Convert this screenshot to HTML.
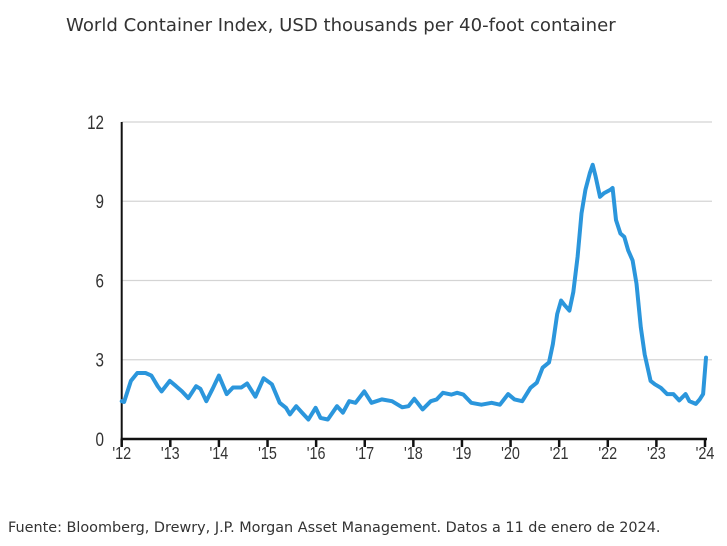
<!DOCTYPE html>
<html><head><meta charset="utf-8"><style>
body{margin:0;width:727px;height:546px;background:#fff;overflow:hidden;font-family:"DejaVu Sans","Liberation Sans",sans-serif;}
#title{position:absolute;left:66px;top:15px;font-size:18.1px;color:#333;white-space:nowrap;}
#foot{position:absolute;left:8px;top:520px;font-size:14.4px;color:#333;white-space:nowrap;}
svg{position:absolute;left:0;top:0;}
</style></head><body>
<div id="title">World Container Index, USD thousands per 40-foot container</div>
<svg id="chart" width="727" height="546"></svg>
<div id="foot">Fuente: Bloomberg, Drewry, J.P. Morgan Asset Management. Datos a 11 de enero de 2024.</div>
<script>
const yTicks=[0,3,6,9,12];
const xYears=[2012,2013,2014,2015,2016,2017,2018,2019,2020,2021,2022,2023,2024];
const xLabels=["'12","'13","'14","'15","'16","'17","'18","'19","'20","'21","'22","'23","'24"];
const dates=[2012,2012.05,2012.19,2012.32,2012.49,2012.61,2012.74,2012.82,2012.99,2013.12,2013.24,2013.37,2013.53,2013.62,2013.74,2013.87,2014.0,2014.16,2014.29,2014.46,2014.58,2014.75,2014.92,2015.09,2015.25,2015.38,2015.46,2015.59,2015.71,2015.84,2015.99,2016.09,2016.24,2016.43,2016.55,2016.68,2016.81,2016.99,2017.14,2017.35,2017.56,2017.77,2017.9,2018.02,2018.19,2018.36,2018.48,2018.61,2018.78,2018.9,2019.03,2019.19,2019.4,2019.61,2019.78,2019.95,2020.08,2020.24,2020.41,2020.54,2020.66,2020.79,2020.87,2020.96,2021.04,2021.12,2021.21,2021.29,2021.38,2021.46,2021.54,2021.63,2021.69,2021.75,2021.84,2021.92,2022.05,2022.1,2022.17,2022.26,2022.34,2022.42,2022.51,2022.59,2022.68,2022.76,2022.88,2022.97,2023.09,2023.22,2023.35,2023.47,2023.6,2023.68,2023.81,2023.89,2023.96,2024.02];
const values=[1.43,1.4,2.2,2.5,2.5,2.4,2.0,1.8,2.2,2.0,1.8,1.55,2.0,1.9,1.43,1.9,2.4,1.7,1.95,1.95,2.1,1.6,2.3,2.07,1.37,1.18,0.93,1.24,1.0,0.74,1.18,0.8,0.74,1.24,1.0,1.43,1.37,1.8,1.37,1.5,1.43,1.2,1.24,1.52,1.12,1.43,1.5,1.75,1.68,1.75,1.68,1.37,1.3,1.37,1.3,1.7,1.5,1.43,1.94,2.13,2.7,2.9,3.6,4.73,5.24,5.05,4.86,5.56,6.9,8.54,9.43,10.06,10.38,9.94,9.17,9.3,9.43,9.5,8.29,7.78,7.65,7.14,6.76,5.88,4.23,3.2,2.2,2.07,1.94,1.7,1.7,1.46,1.7,1.43,1.33,1.5,1.7,3.08];
const svg=document.getElementById('chart');
const NS='http://www.w3.org/2000/svg';
const x0=121.7,x1=705,y0=439,y1=122;
const X=d=>x0+(d-2012)/12*(x1-x0);
const Y=v=>y0+v/12*(y1-y0);
function mk(t,a){const e=document.createElementNS(NS,t);for(const k in a)e.setAttribute(k,a[k]);svg.appendChild(e);return e;}
yTicks.forEach(v=>{
 if(v>0){const g=mk('line',{x1:x0,x2:712,y1:Y(v),y2:Y(v),stroke:'#d4d4d4','stroke-width':1.3});
 
 }
 const t=mk('text',{x:104,y:Y(v)+7,'text-anchor':'end','font-size':19,fill:'#333','font-family':'Liberation Sans, sans-serif',transform:'scale(0.8,1)','transform-origin':'104 '+Y(v)});
 t.textContent=v;
 
 
});
const ax=mk('line',{x1:x0,x2:x0,y1:y1,y2:y0+1,stroke:'#111','stroke-width':2});


const bx=mk('line',{x1:x0-1,x2:X(2024)+2,y1:y0,y2:y0,stroke:'#111','stroke-width':2.5});


xYears.forEach((yr,i)=>{
 const tk=mk('line',{x1:X(yr),x2:X(yr),y1:y0,y2:y0+8,stroke:'#111','stroke-width':2.5});
 
 
 const t=mk('text',{x:X(yr),y:y0+20,'text-anchor':'middle','font-size':18,fill:'#333','font-family':'Liberation Sans, sans-serif',transform:'scale(0.8,1)','transform-origin':X(yr)+' '+(y0+20)});
 t.textContent=xLabels[i];
 
 
});
const p=mk('path',{d:dates.map((d,i)=>(i?'L':'M')+X(d).toFixed(1)+','+Y(values[i]).toFixed(1)).join(''),fill:'none',stroke:'#2b96dc','stroke-width':4,'stroke-linejoin':'round','stroke-linecap':'round'});


</script>
</body></html>
